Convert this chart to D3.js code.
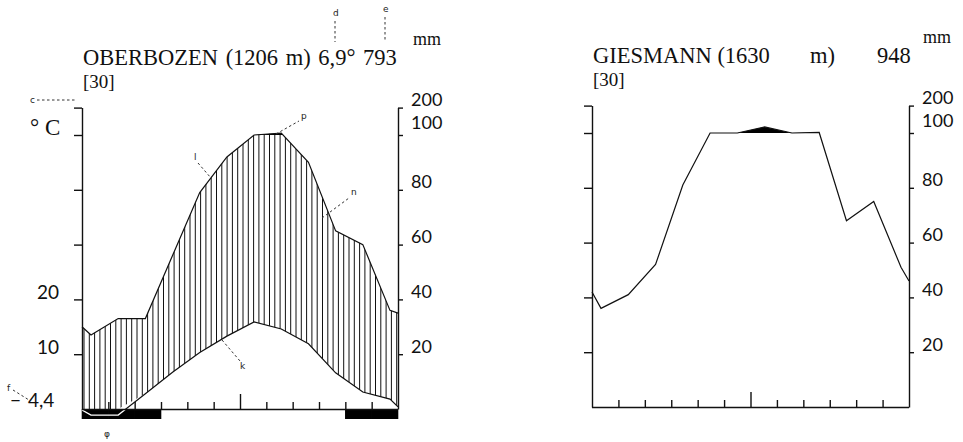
<!DOCTYPE html>
<html>
<head>
<meta charset="utf-8">
<script src="https://cdn.jsdelivr.net/npm/d3@7"></script>
<style>
	body { margin: 0; background: #fff; }
	svg { display: block; }
	.serif { font-family: "Liberation Serif", "DejaVu Serif", serif; fill: #111; }
	.sans  { font-family: Lato, "Open Sans", sans-serif; fill: #111; }
	.note  { font-family: "DejaVu Sans", sans-serif; font-size: 9px; fill: #222; }
	.dash  { stroke: #333; stroke-width: 1; stroke-dasharray: 2.5 2.5; fill: none; }
</style>
</head>
<body>
<svg id="chart" width="963" height="442"></svg>
<script>
const months = ['J', 'F', 'M', 'A', 'M2', 'J2', 'J3', 'A2', 'S', 'O', 'N', 'D']

// Oberbozen (1206 m)
const oberPrecip     = [27, 33, 33, 56, 79, 92, 100, 107, 90, 65, 60, 36]
const oberTemp       = [-1.1, -1.1, 2.8, 6.7, 10.3, 13.3, 15.9, 14.6, 11.9, 6.6, 3.1, 1.8]
const oberPrecipEdge = [30, 35]
const oberTempEdge   = [-0.2, 0.4]
const oberFrost      = [1, 1, 1, 0, 0, 0, 0, 0, 0, 0, 1, 1]

// Giesmann (1630 m)
const giesPrecip     = [36, 41, 52, 81, 100, 100, 122, 100, 102, 68, 75, 51]
const giesPrecipEdge = [42, 46]

const precipTicks = [20, 40, 60, 80, 100, 200]
const tempTicks   = [10, 20]

const svg = d3.select('#chart')
svg.append('rect').attr('width', 963).attr('height', 442).attr('fill', '#fff')

function panel(opt) {
	const { id, x0, w, base, precip, precipEdge, temp, tempEdge, frost } = opt
	const g = svg.append('g')

	const xm = d3.scalePoint().domain(months).range([x0 + 9, x0 + w - 8])
	const xl = d3.scaleLinear().domain([0, 12]).range([x0, x0 + w])
	const xb = d3.scaleBand().domain(months).range([x0, x0 + w])
	const yP = d3.scaleLinear().domain([0, 100, 200]).range([base, base - 274, base - 301.4])
	const yT = d3.scaleLinear().domain([0, 50]).range([base, base - 274])

	const pts = [{ x: x0, p: precipEdge[0], t: tempEdge ? tempEdge[0] : null }]
	months.forEach((m, i) => pts.push({ x: xm(m), p: precip[i], t: temp ? temp[i] : null }))
	pts.push({ x: x0 + w, p: precipEdge[1], t: tempEdge ? tempEdge[1] : null })

	const defs = svg.append('defs')

	// frost months bar under the axis
	if (frost) {
		g.append('g').selectAll('rect')
			.data(months.filter((m, i) => frost[i]))
			.enter()
			.append('rect')
			.attr('x', d => xb(d) - 0.3)
			.attr('width', xb.bandwidth() + 0.6)
			.attr('y', base)
			.attr('height', 10)
			.attr('fill', '#000')
	}

	// humid period hatching
	if (temp) {
		defs.append('clipPath').attr('id', `hum-${id}`)
			.append('path')
			.attr('d', d3.area()
				.x(d => d.x)
				.y0(d => Math.min(yT(d.t), base))
				.y1(d => yP(d.p))(pts))

		g.append('g')
			.attr('clip-path', `url(#hum-${id})`)
			.selectAll('line')
			.data(d3.range(x0 + 2, x0 + w, 5.3))
			.enter()
			.append('line')
			.attr('x1', d => d).attr('x2', d => d)
			.attr('y1', yP(200)).attr('y2', base)
			.attr('stroke', '#111')
			.attr('stroke-width', 1)
	}

	// above 100 mm: black
	defs.append('clipPath').attr('id', `over-${id}`)
		.append('rect')
		.attr('x', x0).attr('y', yP(200))
		.attr('width', w).attr('height', yP(100) - yP(200))

	g.append('path')
		.attr('clip-path', `url(#over-${id})`)
		.attr('d', d3.area().x(d => d.x).y0(yP(100)).y1(d => yP(d.p))(pts))
		.attr('fill', '#000')

	// precipitation curve
	g.append('path')
		.attr('d', d3.line().x(d => d.x).y(d => yP(d.p))(pts))
		.attr('fill', 'none')
		.attr('stroke', '#111')
		.attr('stroke-width', 1.2)

	// temperature curve (white where below 0 over the black bar)
	if (temp) {
		const tl = d3.line().x(d => d.x).y(d => yT(d.t))(pts)
		defs.append('clipPath').attr('id', `tpos-${id}`)
			.append('rect').attr('x', x0).attr('y', 0).attr('width', w).attr('height', base)
		defs.append('clipPath').attr('id', `tneg-${id}`)
			.append('rect').attr('x', x0).attr('y', base + 0.8).attr('width', w).attr('height', 20)
		g.append('path').attr('d', tl).attr('clip-path', `url(#tpos-${id})`)
			.attr('fill', 'none').attr('stroke', '#111').attr('stroke-width', 1.2)
		g.append('path').attr('d', tl).attr('clip-path', `url(#tneg-${id})`)
			.attr('fill', 'none').attr('stroke', '#fff').attr('stroke-width', 1.3)
	}

	// axes
	const left = g.append('g')
		.attr('transform', `translate(${x0},0)`)
		.call(d3.axisLeft(yP).tickValues(precipTicks).tickSize(8).tickSizeOuter(0).tickFormat(''))
	const right = g.append('g')
		.attr('transform', `translate(${x0 + w},0)`)
		.call(d3.axisRight(yP).tickValues(precipTicks).tickSize(5).tickSizeOuter(0).tickFormat(''))
	const bottom = g.append('g')
		.attr('transform', `translate(0,${base})`)
		.call(d3.axisTop(xl).tickValues(d3.range(1, 12)).tickSize(7).tickSizeOuter(0).tickFormat(''))
	bottom.selectAll('.tick line').filter(d => d == 6).attr('y2', -15)
	bottom.select('.domain').attr('d', `M${x0},0.5H${x0 + w}`)

	;[left, right, bottom].forEach(a => {
		a.selectAll('path, line').attr('stroke', '#111').attr('stroke-width', 1.4)
	})

	// precipitation labels
	g.append('g').selectAll('text')
		.data(precipTicks)
		.enter()
		.append('text')
		.attr('class', 'sans')
		.attr('x', x0 + w + 13)
		.attr('y', d => yP(d) - (d == 100 ? 6 : 1.5))
		.attr('font-size', 18)
		.text(d => d)

	if (temp) {
		g.append('g').selectAll('text')
			.data(tempTicks)
			.enter()
			.append('text')
			.attr('class', 'sans')
			.attr('x', x0 - 23)
			.attr('y', d => yT(d))
			.attr('text-anchor', 'end')
			.attr('font-size', 19)
			.text(d => d)
	}
	return g
}

panel({ id: 'ober', x0: 82, w: 316, base: 409, precip: oberPrecip, precipEdge: oberPrecipEdge,
	temp: oberTemp, tempEdge: oberTempEdge, frost: oberFrost })
panel({ id: 'gies', x0: 592, w: 317, base: 407, precip: giesPrecip, precipEdge: giesPrecipEdge })

// Titles
const txt = (x, y, s, cls, size) => svg.append('text')
	.attr('class', cls).attr('x', x).attr('y', y).attr('font-size', size).text(s)

txt(83, 65, 'OBERBOZEN (1206 m) 6,9° 793', 'serif', 22.5).attr('word-spacing', 2)
txt(83, 88, '[30]', 'serif', 19)
txt(413, 45, 'mm', 'serif', 18)
txt(30, 135, '° C', 'serif', 23)

txt(593, 63, 'GIESMANN (1630', 'serif', 22.5)
txt(810, 63, 'm)', 'serif', 22.5)
txt(877, 63, '948', 'serif', 22.5)
txt(593, 86, '[30]', 'serif', 19)
txt(923, 43, 'mm', 'serif', 18)

// minimum label
txt(10, 407, '−', 'sans', 19)
txt(28, 407, '4,4', 'sans', 19)

// small annotation letters
const notes = [
	['d', 333, 16, [[335, 21], [335, 42]]],
	['e', 383, 12, [[385, 17], [385, 42]]],
	['c', 30, 103, [[37, 100], [76, 100]]],
	['p', 301, 119, [[276, 134], [299, 121]]],
	['l', 194, 160, [[198, 163], [211, 178]]],
	['n', 351, 195, [[322, 218], [349, 198]]],
	['k', 240, 369, [[222, 340], [240, 361]]],
	['f', 7, 391, [[13, 390], [29, 400]]],
	['φ', 104, 437, null]
]
notes.forEach(([s, x, y, ln]) => {
	svg.append('text').attr('class', 'note').attr('x', x).attr('y', y).text(s)
	if (ln) svg.append('path').attr('class', 'dash').attr('d', d3.line()(ln))
})
</script>
</body>
</html>
